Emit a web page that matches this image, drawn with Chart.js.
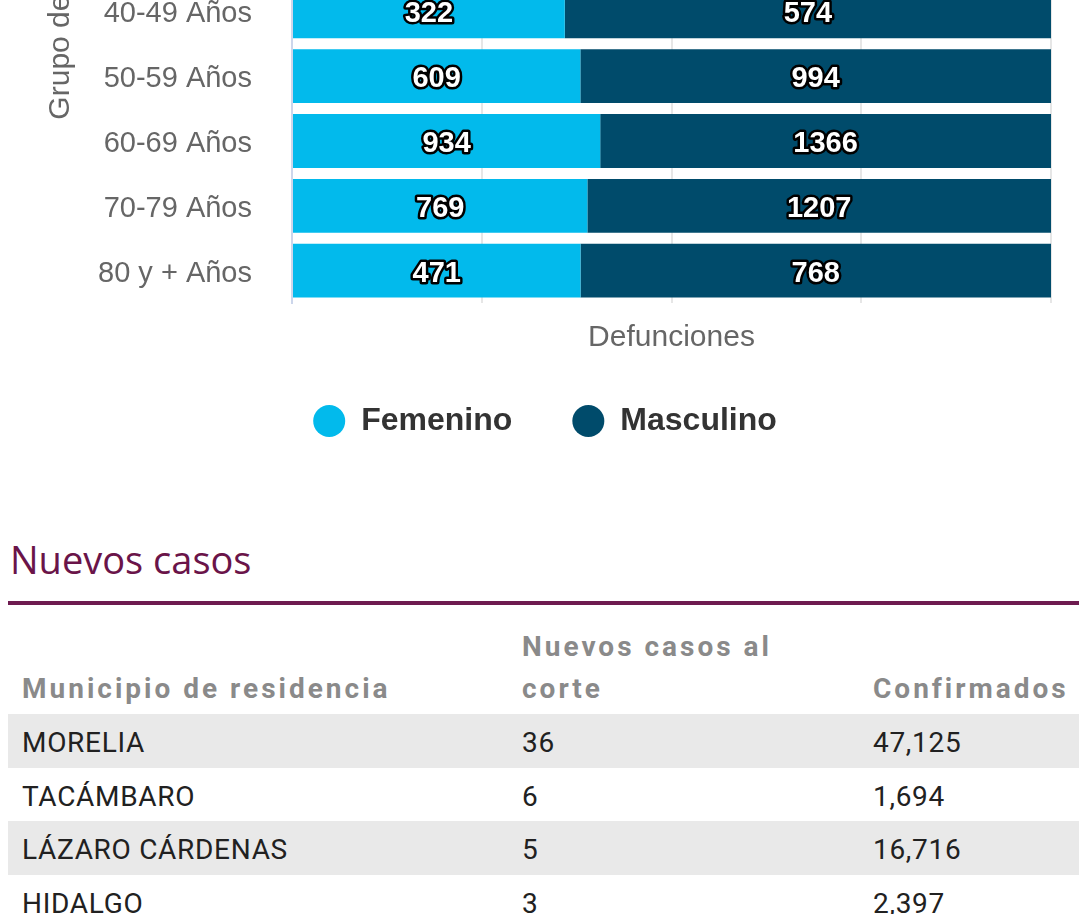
<!DOCTYPE html>
<html lang="es">
<head>
<meta charset="utf-8">
<title>Defunciones por grupo de edad y sexo</title>
<script src="https://cdn.jsdelivr.net/npm/chart.js@4.4.1/dist/chart.umd.min.js"></script>
<style>
  html, body { margin: 0; padding: 0; background: #fff; }
  body { width: 1079px; height: 914px; overflow: hidden; position: relative; }
  #cajaGrafica { position: absolute; left: 0; top: -21px; width: 1079px; height: 468px; }
  h2.seccion {
    position: absolute; left: 8px; top: 540px; width: 1069px; margin: 0;
    padding: 0 0 23px 2px;
    font: 400 38px/38px "Open Sans", sans-serif; color: #6a1449;
    border-bottom: 4px solid #6e1b50;
  }
  table.casos {
    position: absolute; left: 8px; top: 618px; width: 1071px;
    border-collapse: collapse; table-layout: fixed;
  }
  table.casos th {
    font: 700 28px/42px Roboto, sans-serif; letter-spacing: 3px;
    color: #8a8a8a; text-align: left; vertical-align: bottom;
    padding: 8px 14px 4px 14px;
  }
  table.casos td {
    font: 400 28px/42px Roboto, sans-serif; letter-spacing: 0.7px; color: #212121;
    padding: 8px 14px 3.5px 14px;
  }
  table.casos tbody tr:nth-child(odd) td { background: #e9e9e9; }
</style>
</head>
<body>
<div id="cajaGrafica"><canvas id="graficaDefunciones"></canvas></div>

<h2 class="seccion">Nuevos casos</h2>
<table class="casos">
  <colgroup><col style="width:500px"><col style="width:351px"><col style="width:220px"></colgroup>
  <thead>
    <tr><th>Municipio de residencia</th><th>Nuevos casos al corte</th><th>Confirmados</th></tr>
  </thead>
  <tbody id="cuerpoTabla"></tbody>
</table>

<script>
// datos de la grafica (defunciones por grupo de edad y sexo)
const gruposEdad = ['40-49 Años', '50-59 Años', '60-69 Años', '70-79 Años', '80 y + Años'];
const femenino = [322, 609, 934, 769, 471];
const masculino = [574, 994, 1366, 1207, 768];

// datos de la tabla de nuevos casos
const municipios = ['MORELIA', 'TACÁMBARO', 'LÁZARO CÁRDENAS', 'HIDALGO'];
const nuevosCasos = [36, 6, 5, 3];
const confirmados = [47125, 1694, 16716, 2397];

const colorFemenino = '#02baec';
const colorMasculino = '#004b6b';
const fuente = '"Liberation Sans", Arial, sans-serif';

Chart.defaults.font.family = fuente;

// barras apiladas al 100%
const totales = gruposEdad.map((_, i) => femenino[i] + masculino[i]);
const pctFemenino = femenino.map((v, i) => v / totales[i] * 100);
const pctMasculino = masculino.map((v, i) => v / totales[i] * 100);

//etiquetas blancas con contorno negro dentro de cada segmento
const etiquetasBarras = {
    id: 'etiquetasBarras',
    afterDatasetsDraw(chart) {
        const ctx = chart.ctx;
        ctx.save();
        ctx.font = 'bold 29px ' + fuente;
        ctx.textAlign = 'center';
        ctx.textBaseline = 'middle';
        ctx.lineJoin = 'round';
        ctx.lineWidth = 5;
        ctx.strokeStyle = '#000';
        ctx.fillStyle = '#fff';
        chart.data.datasets.forEach((ds, di) => {
            chart.getDatasetMeta(di).data.forEach((barra, i) => {
                const texto = String(ds.valores[i]);
                const x = (barra.x + barra.base) / 2;
                ctx.strokeText(texto, x, barra.y + 3);
                ctx.fillText(texto, x, barra.y + 3);
            });
        });
        ctx.restore();
    }
};

// el titulo del eje y original queda recortado arriba: se empuja hacia arriba con espacios
const tituloEjeY = '\u00a0'.repeat(22) + 'Grupo de edad';

new Chart(document.getElementById('graficaDefunciones'), {
    type: 'bar',
    data: {
        labels: gruposEdad,
        datasets: [
            {
                label: 'Femenino',
                data: pctFemenino,
                valores: femenino,
                backgroundColor: colorFemenino,
                barPercentage: 0.83,
                categoryPercentage: 1
            },
            {
                label: 'Masculino',
                data: pctMasculino,
                valores: masculino,
                backgroundColor: colorMasculino,
                barPercentage: 0.83,
                categoryPercentage: 1
            }
        ]
    },
    options: {
        indexAxis: 'y',
        responsive: true,
        maintainAspectRatio: false,
        animation: false,
        layout: { padding: { top: 0, right: 28, bottom: 0, left: 39 } },
        scales: {
            x: {
                stacked: true,
                min: 0,
                max: 100,
                ticks: { display: false, stepSize: 25 },
                grid: { color: '#e6e6e6', lineWidth: 2, drawTicks: false },
                border: { display: false },
                title: {
                    display: true,
                    text: 'Defunciones',
                    color: '#666666',
                    font: { size: 30, lineHeight: 0.5 },
                    padding: { top: 27, bottom: 0 }
                }
            },
            y: {
                stacked: true,
                grid: { display: false },
                border: { color: '#ccd6eb', width: 2 },
                ticks: { color: '#666666', font: { size: 29 }, padding: 32, labelOffset: 3 },
                title: {
                    display: true,
                    text: tituloEjeY,
                    align: 'start',
                    color: '#666666',
                    font: { size: 30 },
                    padding: { top: 4, bottom: 0 }
                },
                afterFit(scale) {
                    // ancho fijo del eje y, sin margen extra arriba/abajo
                    scale.width = 253;
                    scale.paddingTop = 0;
                    scale.paddingBottom = 0;
                }
            }
        },
        plugins: {
            legend: {
                position: 'bottom',
                labels: {
                    usePointStyle: true,
                    pointStyle: 'circle',
                    boxHeight: 22.6,
                    pointStyleWidth: 32,
                    padding: 60,
                    color: '#333333',
                    font: { size: 32, weight: 'bold' }
                }
            },
            tooltip: { enabled: false }
        }
    },
    plugins: [etiquetasBarras]
});

// tabla
const cuerpo = document.getElementById('cuerpoTabla');
municipios.forEach((m, i) => {
    const fila = document.createElement('tr');
    fila.innerHTML = `<td>${m}</td><td>${nuevosCasos[i]}</td><td>${confirmados[i].toLocaleString('en-US')}</td>`;
    cuerpo.appendChild(fila);
});
</script>
</body>
</html>
